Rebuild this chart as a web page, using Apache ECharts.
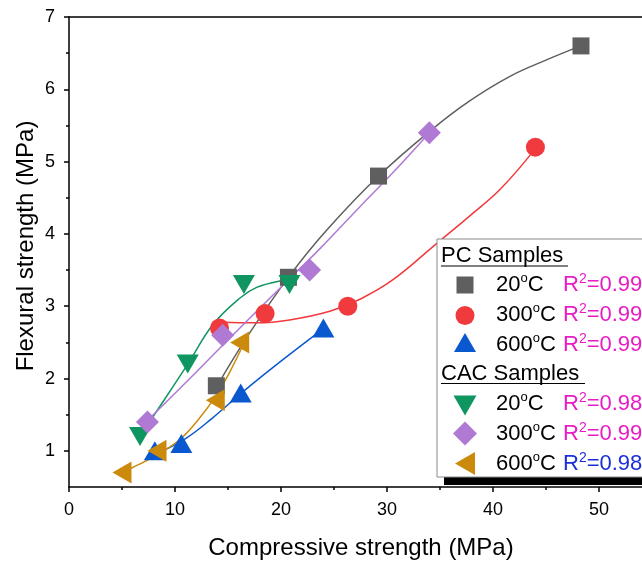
<!DOCTYPE html>
<html><head><meta charset="utf-8">
<script src="https://cdn.jsdelivr.net/npm/echarts@6/dist/echarts.min.js"></script>
<style>html,body{margin:0;padding:0;background:#fff}#c{width:642px;height:563px}</style>
</head><body><div id="c"></div>
<script>
// ---- measured data points ----
const pc20X = [13.9, 20.7, 29.2, 48.3];
const pc20Y = [1.9, 3.4, 4.8, 6.6];
const pc300X = [14.2, 18.5, 26.3, 44.0];
const pc300Y = [2.7, 2.9, 3.0, 5.2];
const pc600X = [8.1, 10.6, 16.2, 24.0];
const pc600Y = [1.0, 1.1, 1.8, 2.7];
const cac20X = [6.7, 11.2, 16.5, 20.8];
const cac20Y = [1.2, 2.2, 3.3, 3.3];
const cac300X = [7.4, 14.5, 22.7, 34.0];
const cac300Y = [1.4, 2.6, 3.5, 5.4];
const cac600X = [5.0, 8.3, 13.8, 16.1];
const cac600Y = [0.7, 1.0, 1.7, 2.5];

// ---- fit curves ----
const fitPc20X = [13.9, 17.0, 20.8, 24.3, 29.2, 34.2, 37.8, 41.6, 45.1, 48.3];
const fitPc20Y = [1.88, 2.62, 3.42, 4.05, 4.80, 5.44, 5.84, 6.18, 6.41, 6.60];
const fitPc300X = [14.2, 17.7, 20.8, 24.6, 27.5, 30.6, 34.7, 37.9, 40.7, 44.0];
const fitPc300Y = [2.78, 2.77, 2.81, 2.93, 3.10, 3.37, 3.87, 4.26, 4.62, 5.18];
const fitPc600X = [8.1, 11.0, 13.5, 16.6, 20.0, 24.0];
const fitPc600Y = [0.95, 1.17, 1.45, 1.84, 2.24, 2.69];
const fitCac20X = [6.9, 8.6, 11.2, 13.6, 16.1, 17.7, 19.9, 20.8];
const fitCac20Y = [1.25, 1.62, 2.20, 2.75, 3.11, 3.26, 3.35, 3.36];
const fitCac300X = [7.4, 11.4, 14.5, 17.7, 20.8, 23.7, 27.4, 30.7, 34.0];
const fitCac300Y = [1.42, 2.00, 2.46, 2.93, 3.38, 3.80, 4.37, 4.87, 5.40];
const fitCac600X = [5.0, 6.0, 8.0, 10.4, 12.3, 13.9, 15.2, 16.7];
const fitCac600Y = [0.71, 0.77, 0.92, 1.15, 1.45, 1.77, 2.10, 2.55];

// ---- ticks ----
const yMajorTicks = [1, 2, 3, 4, 5, 6, 7];
const yMinorTicks = [1.5, 2.5, 3.5, 4.5, 5.5, 6.5];

// ---- text ----
const groupTitles = ['PC Samples', 'CAC Samples'];
const tempLabels = ['20', '300', '600', '20', '300', '600'];
const r2Values = ['0.99', '0.99', '0.99', '0.98', '0.99', '0.98'];
const xTitle = 'Compressive strength (MPa)';
const yTitle = 'Flexural strength (MPa)';

const colors = ['#5f5f5f', '#f03a3d', '#0a58d0', '#0e9560', '#b07ad4', '#cc8a0c'];
const r2Colors = ['#e81cc4', '#e81cc4', '#e81cc4', '#e81cc4', '#e81cc4', '#1a2fd8'];
const FONT = '"Liberation Sans", Arial, sans-serif';

const zip = (xs, ys) => xs.map((x, i) => [x, ys[i]]);
const pts = [zip(pc20X, pc20Y), zip(pc300X, pc300Y), zip(pc600X, pc600Y), zip(cac20X, cac20Y), zip(cac300X, cac300Y), zip(cac600X, cac600Y)];
const fits = [zip(fitPc20X, fitPc20Y), zip(fitPc300X, fitPc300Y), zip(fitPc600X, fitPc600Y), zip(fitCac20X, fitCac20Y), zip(fitCac300X, fitCac300Y), zip(fitCac600X, fitCac600Y)];
const symbols = [
  {symbol: 'rect', size: 17, rot: 0},
  {symbol: 'circle', size: 19, rot: 0},
  {symbol: 'triangle', size: [22, 19], rot: 0},
  {symbol: 'triangle', size: [22, 19], rot: 180},
  {symbol: 'diamond', size: 23, rot: 0},
  {symbol: 'triangle', size: [22, 19], rot: 90}
];

const series = [];
fits.forEach((d, i) => series.push({
  type: 'line', data: d, smooth: 0.4, showSymbol: false, silent: true, z: 2,
  lineStyle: {color: colors[i], width: 1.5}
}));
pts.forEach((d, i) => series.push({
  type: 'scatter', data: d, symbol: symbols[i].symbol, symbolSize: symbols[i].size,
  symbolRotate: symbols[i].rot, z: 3, itemStyle: {color: colors[i], opacity: 1}
}));

// ---- legend (custom box) ----
const lgX = 437, lgY = 239, lgW = 260, lgH = 238;
const rowY = [285, 315, 345, 404, 434, 464];
const iconY = [285, 315.5, 342.5, 405.5, 433.5, 463.5];
const iconX = 465;
const g = [];
g.push({type: 'rect', shape: {x: lgX + 7, y: lgY + 7, width: lgW, height: lgH + 1}, style: {fill: '#000'}, z: 100});
g.push({type: 'rect', shape: {x: lgX, y: lgY, width: lgW, height: lgH}, style: {fill: '#fff', stroke: '#8a8a8a', lineWidth: 1}, z: 101});
[[256, 0, 127], [373.5, 1, 144]].forEach(([cy, k, w]) => {
  g.push({type: 'text', x: 441, y: cy, z: 102, style: {text: groupTitles[k], font: '22px ' + FONT, fill: '#000', verticalAlign: 'middle', align: 'left'}});
  g.push({type: 'line', shape: {x1: 441, y1: cy + 10, x2: 441 + w, y2: cy + 10}, style: {stroke: '#000', lineWidth: 1.2}, z: 102});
});
function tri(cx, cy, w, h, dir) {
  if (dir === 'up') return [[cx - w / 2, cy + h / 2], [cx + w / 2, cy + h / 2], [cx, cy - h / 2]];
  if (dir === 'down') return [[cx - w / 2, cy - h / 2], [cx + w / 2, cy - h / 2], [cx, cy + h / 2]];
  return [[cx + w / 2, cy - h / 2], [cx + w / 2, cy + h / 2], [cx - w / 2, cy]];
}
for (let i = 0; i < 6; i++) {
  const cy = iconY[i], c = colors[i];
  let el;
  if (i === 0) el = {type: 'rect', shape: {x: iconX - 8.5, y: cy - 8.5, width: 17, height: 17}};
  else if (i === 1) el = {type: 'circle', shape: {cx: iconX, cy: cy, r: 9.5}};
  else if (i === 2) el = {type: 'polygon', shape: {points: tri(iconX, cy, 22, 19, 'up')}};
  else if (i === 3) el = {type: 'polygon', shape: {points: tri(iconX, cy, 23, 20, 'down')}};
  else if (i === 4) el = {type: 'polygon', shape: {points: [[iconX, cy - 12], [iconX + 12, cy], [iconX, cy + 12], [iconX - 12, cy]]}};
  else el = {type: 'polygon', shape: {points: tri(iconX, cy, 20, 23, 'left')}};
  el.style = {fill: c}; el.z = 102;
  g.push(el);
  g.push({type: 'text', x: 496, y: rowY[i], z: 102, style: {
    text: '{n|' + tempLabels[i] + '}{s|o}{n|C}', verticalAlign: 'middle', align: 'left',
    rich: {n: {font: '22px ' + FONT, fill: '#000', lineHeight: 26}, s: {font: '13px ' + FONT, fill: '#000', lineHeight: 16, verticalAlign: 'top'}}
  }});
  g.push({type: 'text', x: 563, y: rowY[i], z: 102, style: {
    text: '{r|R}{s|2}{r|=' + r2Values[i] + '}', verticalAlign: 'middle', align: 'left',
    rich: {r: {font: '22px ' + FONT, fill: r2Colors[i], lineHeight: 26}, s: {font: '14px ' + FONT, fill: r2Colors[i], lineHeight: 16, verticalAlign: 'top'}}
  }});
}
// axis titles
g.push({type: 'text', x: 361, y: 548, z: 50, style: {text: xTitle, font: '24px ' + FONT, fill: '#000', align: 'center', verticalAlign: 'middle'}});
g.push({type: 'text', x: 26, y: 246, rotation: Math.PI / 2, z: 50, style: {text: yTitle, font: '24px ' + FONT, fill: '#000', align: 'center', verticalAlign: 'middle'}});

const axisLine = {show: true, lineStyle: {color: '#000', width: 1.5}};
const tickStyle = {color: '#000', width: 1.5};
const option = {
  animation: false,
  backgroundColor: '#fff',
  grid: {left: 69, top: 17, bottom: 76, right: -63, containLabel: false, outerBoundsMode: 'none'},
  xAxis: [
    {type: 'value', position: 'bottom', min: 0, max: 60, interval: 10,
     axisLine: axisLine, axisTick: {show: true, inside: false, length: 5, lineStyle: tickStyle},
     minorTick: {show: true, splitNumber: 2, length: 3, lineStyle: tickStyle},
     axisLabel: {fontSize: 18, fontFamily: FONT, color: '#000', margin: 14},
     splitLine: {show: false}},
    {type: 'value', position: 'top', min: 0, max: 60, interval: 10,
     axisLine: axisLine, axisTick: {show: false}, axisLabel: {show: false}, splitLine: {show: false}}
  ],
  yAxis: [
    {type: 'value', position: 'left', min: 0.5, max: 7,
     axisLine: axisLine,
     axisTick: {show: true, inside: false, length: 5, lineStyle: tickStyle, customValues: yMajorTicks},
     axisLabel: {fontSize: 18, fontFamily: FONT, color: '#000', margin: 14, customValues: yMajorTicks},
     splitLine: {show: false}},
    {type: 'value', position: 'left', min: 0.5, max: 7,
     axisLine: {show: false},
     axisTick: {show: true, inside: false, length: 3, lineStyle: tickStyle, customValues: yMinorTicks},
     axisLabel: {show: false}, splitLine: {show: false}}
  ],
  series: series,
  graphic: g
};
const chart = echarts.init(document.getElementById('c'), null, {renderer: 'canvas'});
chart.setOption(option);
</script>
</body></html>
